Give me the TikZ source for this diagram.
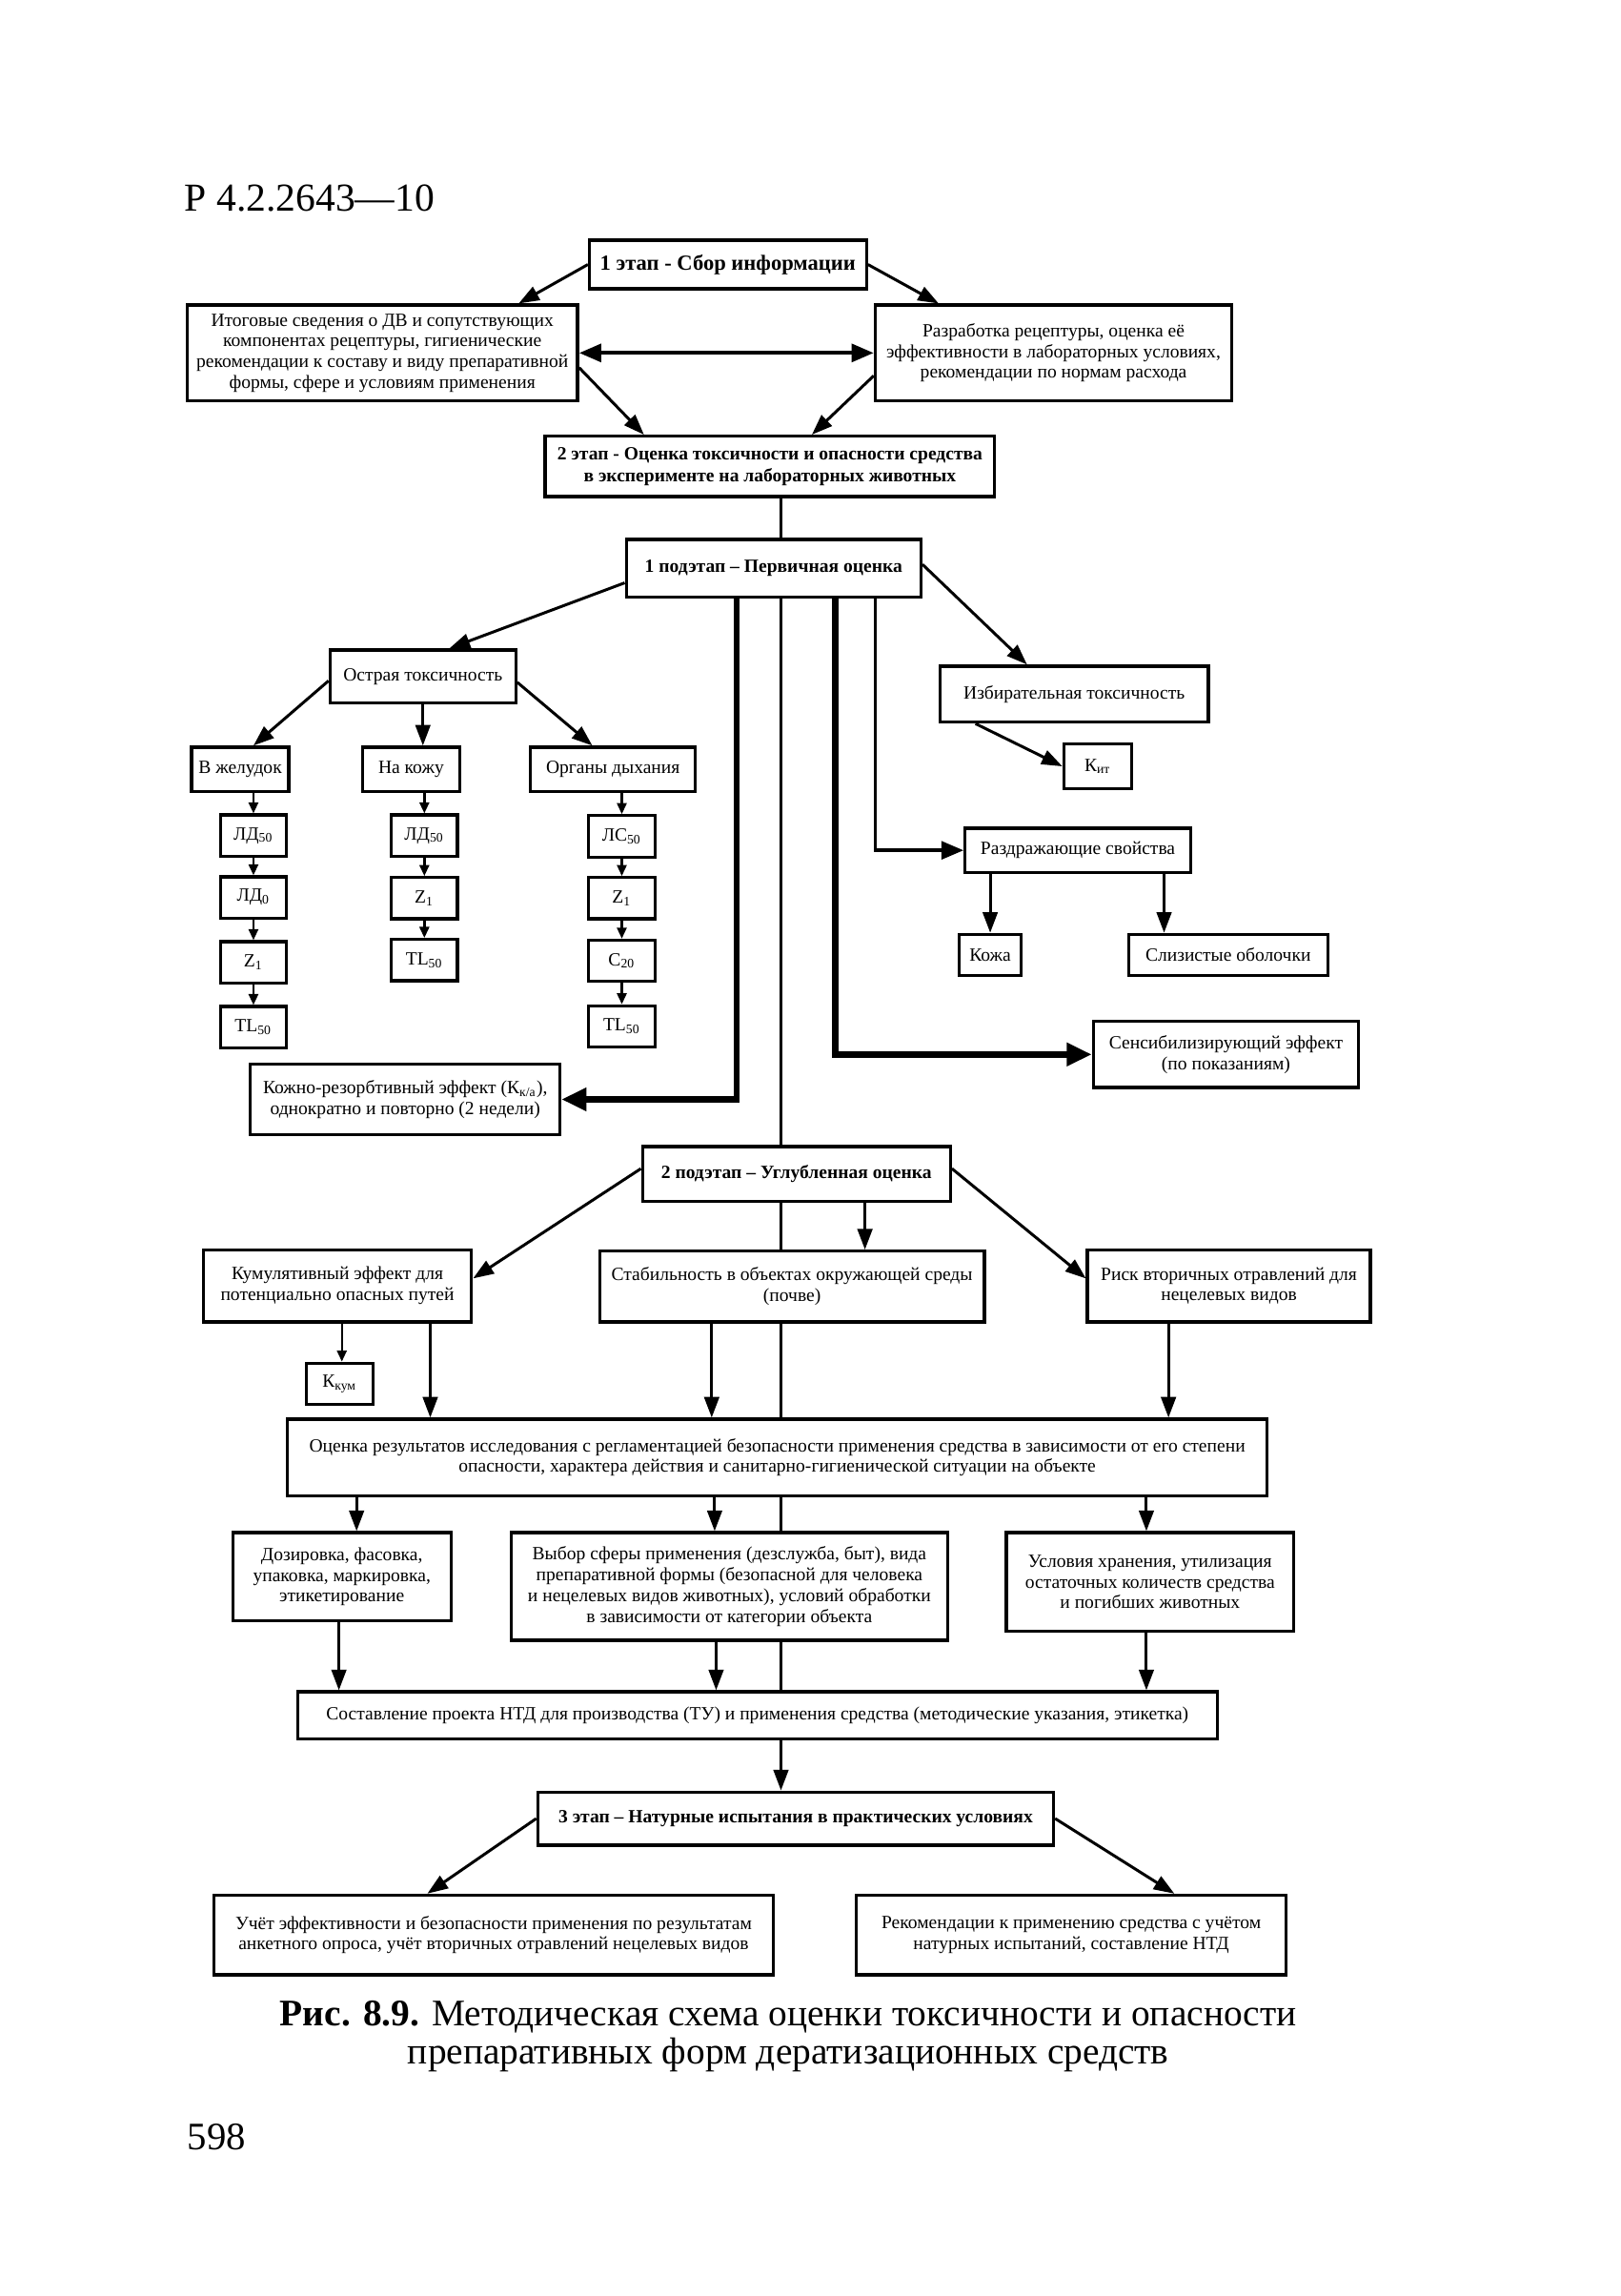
\documentclass[tikz,border=0pt]{standalone}
\usepackage{fontspec}
\setmainfont{Liberation Serif}
\usetikzlibrary{arrows.meta}
\begin{document}
\begin{tikzpicture}[x=0.02cm,y=-0.02cm,
  box/.style={draw,line width=1.2pt,align=center,inner sep=1pt,font=\fontsize{7.2}{8}\selectfont},
  bbox/.style={box,font=\bfseries\fontsize{7.2}{8.4}\selectfont},
  sz/.style 2 args={minimum width=#1*0.02cm,minimum height=#2*0.02cm},
  arr/.style={line width=1.1pt,-{Triangle[length=0.28cm,width=0.2cm]}},
  sarr/.style={line width=0.9pt,-{Triangle[length=0.15cm,width=0.13cm]}},
  thk/.style={line width=2.4pt,-{Triangle[length=0.34cm,width=0.3cm]}},
  ln/.style={line width=0.9pt}]
\useasboundingbox (0,0) rectangle (1100,1558);
% header
\node[anchor=base west,inner sep=0,font=\fontsize{15.3}{16}\selectfont] (hdr) at (125,143) {Р 4.2.2643—10};
% column coordinates
\coordinate (tr) at (530,0);
\coordinate (l1) at (500,0);
\coordinate (r1) at (567,0);
\coordinate (r2) at (594,0);
% boxes
\node[bbox,sz={188}{33},font=\bfseries\fontsize{8.3}{9}\selectfont] (s1) at (494,179.5) {1 этап - Сбор информации};
\node[box,sz={265}{65}] (info) at (259.5,239.5) {Итоговые сведения о ДВ и сопутствующих\\компонентах рецептуры, гигиенические\\рекомендации к составу и виду препаративной\\формы, сфере и условиям применения};
\node[box,sz={242}{65}] (recip) at (715,239.5) {Разработка рецептуры, оценка её\\эффективности в лабораторных условиях,\\рекомендации по нормам расхода};
\node[bbox,sz={305}{41}] (s2) at (522.5,316.5) {2 этап - Оценка токсичности и опасности средства\\в эксперименте на лабораторных животных};
\node[bbox,sz={200}{39}] (p1) at (525,385.5) {1 подэтап – Первичная оценка};
\node[box,sz={126}{36}] (acute) at (287,459) {Острая токсичность};
\node[box,sz={182}{38}] (sel) at (729,471) {Избирательная токсичность};
\node[box,sz={46}{30}] (kit) at (745,520) {К\textsubscript{ит}};
\node[box,sz={66}{30}] (stom) at (163,522) {В желудок};
\node[box,sz={66}{30}] (skin) at (279,522) {На кожу};
\node[box,sz={112}{30}] (resp) at (416,522) {Органы дыхания};
% chains
\node[box,sz={45}{28}] (a1) at (172,567) {ЛД\textsubscript{50}};
\node[box,sz={45}{28}] (a2) at (172,609) {ЛД\textsubscript{0}};
\node[box,sz={45}{28}] (a3) at (172,653) {Z\textsubscript{1}};
\node[box,sz={45}{28}] (a4) at (172,697) {TL\textsubscript{50}};
\node[box,sz={45}{28}] (b1) at (288,567) {ЛД\textsubscript{50}};
\node[box,sz={45}{28}] (b2) at (288,609.5) {Z\textsubscript{1}};
\node[box,sz={45}{28}] (b3) at (288,651.5) {TL\textsubscript{50}};
\node[box,sz={45}{28}] (c1) at (422,567.5) {ЛС\textsubscript{50}};
\node[box,sz={45}{28}] (c2) at (422,609.5) {Z\textsubscript{1}};
\node[box,sz={45}{28}] (c3) at (422,652) {C\textsubscript{20}};
\node[box,sz={45}{28}] (c4) at (422,696.5) {TL\textsubscript{50}};
\node[box,sz={210}{48}] (kozh) at (275,746) {Кожно-резорбтивный эффект (К\textsubscript{к/а}),\\однократно и повторно (2 недели)};
\node[box,sz={153}{30}] (irrit) at (731.5,577) {Раздражающие свойства};
\node[box,sz={42}{28}] (kozha) at (672,648) {Кожа};
\node[box,sz={135}{28}] (muc) at (833.5,648) {Слизистые оболочки};
\node[box,sz={180}{45}] (sens) at (832,715.5) {Сенсибилизирующий эффект\\(по показаниям)};
\node[bbox,sz={209}{37}] (p2) at (540.5,796.5) {2 подэтап – Углубленная оценка};
\node[box,sz={182}{49}] (cum) at (229,872.5) {Кумулятивный эффект для\\потенциально опасных путей};
\node[box,sz={261}{48}] (stab) at (537.5,873) {Стабильность в объектах окружающей среды\\(почве)};
\node[box,sz={192}{49}] (risk) at (834,872.5) {Риск вторичных отравлений для\\нецелевых видов};
\node[box,sz={45}{28}] (kkum) at (230.5,939) {К\textsubscript{кум}};
\node[box,sz={665}{52}] (eval) at (527.5,989) {Оценка результатов исследования с регламентацией безопасности применения средства в зависимости от его степени\\опасности, характера действия и санитарно-гигиенической ситуации на объекте};
\node[box,sz={148}{60}] (dose) at (232,1070) {Дозировка, фасовка,\\упаковка, маркировка,\\этикетирование};
\node[box,sz={296}{73}] (choice) at (495,1076.5) {Выбор сферы применения (дезслужба, быт), вида\\препаративной формы (безопасной для человека\\и нецелевых видов животных), условий обработки\\в зависимости от категории объекта};
\node[box,sz={195}{67}] (store) at (780.5,1073.5) {Условия хранения, утилизация\\остаточных количеств средства\\и погибших животных};
\node[box,sz={624}{32}] (ntd) at (514,1164) {Составление проекта НТД для производства (ТУ) и применения средства (методические указания, этикетка)};
\node[bbox,sz={350}{36}] (s3) at (540,1234) {3 этап – Натурные испытания в практических условиях};
\node[box,sz={380}{54}] (acc) at (335,1313) {Учёт эффективности и безопасности применения по результатам\\анкетного опроса, учёт вторичных отравлений нецелевых видов};
\node[box,sz={292}{54}] (rec) at (727,1313) {Рекомендации к применению средства с учётом\\натурных испытаний, составление НТД};
% caption
\node[inner sep=0,font=\fontsize{14.5}{14.8}\selectfont,align=center] (cap) at (535,1382) {\textbf{Рис. 8.9.} Методическая схема оценки токсичности и опасности\\препаративных форм дератизационных средств};
\node[anchor=base west,inner sep=0,font=\fontsize{15}{15}\selectfont] (pg) at (127,1459) {598};
% connectors stage 1
\draw[arr] (s1.west) -- ([xshift=1.85cm]info.north);
\draw[arr] (s1.east) -- ([xshift=-1.56cm]recip.north);
\draw[line width=1.6pt,{Triangle[length=0.3cm,width=0.24cm]}-{Triangle[length=0.3cm,width=0.24cm]}] (info.east) -- (recip.west);
\draw[arr] ([yshift=-0.2cm]info.east) -- ([xshift=-1.71cm]s2.north);
\draw[arr] ([yshift=-0.31cm]recip.west) -- ([xshift=0.57cm]s2.north);
\draw[ln] (s2.south -| tr) -- (p1.north -| tr);
% podetap 1
\draw[arr] ([yshift=-0.2cm]p1.west) -- ([xshift=0.36cm]acute.north);
\draw[arr] ([yshift=0.05cm]p1.east) -- ([xshift=-0.64cm]sel.north);
\draw[arr] ([xshift=-1.34cm]sel.south) -- (kit.west);
\draw[arr] ([yshift=-0.06cm]acute.west) -- ([xshift=0.18cm]stom.north);
\draw[arr] (acute.south) -- (acute.south |- skin.north);
\draw[arr] ([yshift=-0.08cm]acute.east) -- ([xshift=-0.28cm]resp.north);
\draw[sarr] (a1.north |- stom.south) -- (a1.north);
\draw[sarr] (a1) -- (a2);
\draw[sarr] (a2) -- (a3);
\draw[sarr] (a3) -- (a4);
\draw[sarr] (b1.north |- skin.south) -- (b1.north);
\draw[sarr] (b1) -- (b2);
\draw[sarr] (b2) -- (b3);
\draw[sarr] (c1.north |- resp.south) -- (c1.north);
\draw[sarr] (c1) -- (c2);
\draw[sarr] (c2) -- (c3);
\draw[sarr] (c3) -- (c4);
\draw[thk] (p1.south -| l1) |- (kozh.east);
\draw[ln] (p1.south -| tr) -- (p2.north -| tr);
\draw[thk] (p1.south -| r1) |- (sens.west);
\draw[line width=1.4pt,-{Triangle[length=0.3cm,width=0.24cm]}] (p1.south -| r2) |- (irrit.west);
\coordinate (m1) at (790,0);
\draw[arr] (irrit.south -| kozha.north) -- (kozha.north);
\draw[arr] (irrit.south -| m1) -- (muc.north -| m1);
% podetap 2
\draw[arr] ([yshift=0.07cm]p2.west) -- ([yshift=0.1cm]cum.east);
\draw[ln] (p2.south -| tr) -- (stab.north -| tr);
\coordinate (st1) at (587,0);
\draw[arr] (p2.south -| st1) -- (stab.north -| st1);
\draw[arr] ([yshift=0.07cm]p2.east) -- ([yshift=0.1cm]risk.west);
\coordinate (k1) at (232,0);
\coordinate (k2) at (292,0);
\coordinate (k3) at (483,0);
\coordinate (k4) at (793,0);
\draw[sarr] (cum.south -| k1) -- (kkum.north -| k1);
\draw[arr] (cum.south -| k2) -- (eval.north -| k2);
\draw[arr] (stab.south -| k3) -- (eval.north -| k3);
\draw[ln] (stab.south -| tr) -- (eval.north -| tr);
\draw[arr] (risk.south -| k4) -- (eval.north -| k4);
% evaluation
\coordinate (e1) at (242,0);
\coordinate (e2) at (485,0);
\coordinate (e3) at (778,0);
\draw[arr] (eval.south -| e1) -- (dose.north -| e1);
\draw[arr] (eval.south -| e2) -- (choice.north -| e2);
\draw[ln] (eval.south -| tr) -- (choice.north -| tr);
\draw[arr] (eval.south -| e3) -- (store.north -| e3);
\coordinate (f1) at (230,0);
\coordinate (f2) at (486,0);
\draw[arr] (dose.south -| f1) -- (ntd.north -| f1);
\draw[arr] (choice.south -| f2) -- (ntd.north -| f2);
\draw[ln] (choice.south -| tr) -- (ntd.north -| tr);
\draw[arr] (store.south -| e3) -- (ntd.north -| e3);
\draw[arr] (ntd.south -| tr) -- (s3.north -| tr);
\draw[arr] (s3.west) -- ([xshift=-0.9cm]acc.north);
\draw[arr] (s3.east) -- ([xshift=1.4cm]rec.north);
\end{tikzpicture}
\end{document}
